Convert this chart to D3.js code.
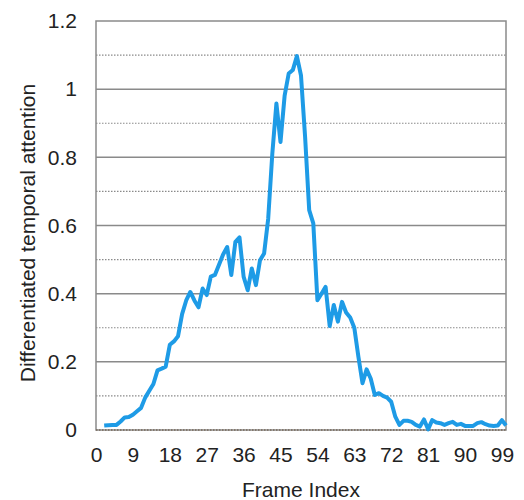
<!DOCTYPE html>
<html>
<head>
<meta charset="utf-8">
<script src="https://cdn.jsdelivr.net/npm/d3@7"></script>
<style>
  body { margin: 0; background: #fff; }
  text { font-family: "Liberation Sans", Arial, sans-serif; fill: #222; }
</style>
</head>
<body>
<svg id="chart" width="524" height="500"></svg>
<script>
// frames 2..100
const frames = d3.range(2, 101);
const attention = [
  0.013, 0.014, 0.015, 0.015, 0.025, 0.037, 0.038, 0.045, 0.055, 0.065,
  0.095, 0.115, 0.135, 0.175, 0.180, 0.186, 0.250, 0.260, 0.275, 0.340,
  0.380, 0.405, 0.380, 0.360, 0.415, 0.396, 0.450, 0.455, 0.485, 0.515,
  0.537, 0.455, 0.552, 0.565, 0.450, 0.410, 0.474, 0.425, 0.498, 0.518,
  0.620, 0.810, 0.958, 0.845, 0.980, 1.046, 1.056, 1.097, 1.040, 0.860,
  0.645, 0.606, 0.381, 0.400, 0.420, 0.305, 0.367, 0.318, 0.376, 0.345,
  0.330, 0.300, 0.215, 0.137, 0.178, 0.151, 0.103, 0.108, 0.100, 0.095,
  0.083, 0.039, 0.015, 0.027, 0.027, 0.024, 0.015, 0.010, 0.031, 0.002,
  0.029, 0.022, 0.020, 0.015, 0.020, 0.024, 0.015, 0.018, 0.012, 0.012,
  0.012, 0.020, 0.023, 0.017, 0.013, 0.012, 0.013, 0.029, 0.013
];
const xTicks = [0, 9, 18, 27, 36, 45, 54, 63, 72, 81, 90, 99];
const yMajor = [0, 0.2, 0.4, 0.6, 0.8, 1, 1.2];
const yMinor = [0.1, 0.3, 0.5, 0.7, 0.9, 1.1];

const svg = d3.select('#chart');
const m = { left: 96, right: 506, top: 21, bottom: 430 };

const x = d3.scaleLinear().domain([0, 100]).range([m.left, m.right]);
const y = d3.scaleLinear().domain([0, 1.2]).range([m.bottom, m.top]);

// dotted minor grid
svg.append('g').selectAll('line').data(yMinor).join('line')
  .attr('x1', m.left).attr('x2', m.right)
  .attr('y1', d => y(d)).attr('y2', d => y(d))
  .attr('stroke', '#8a8a8a').attr('stroke-width', 1.2)
  .attr('stroke-dasharray', '1.5,1.5');

// solid major grid
svg.append('g').selectAll('line').data(yMajor.slice(1, -1)).join('line')
  .attr('x1', m.left).attr('x2', m.right)
  .attr('y1', d => y(d)).attr('y2', d => y(d))
  .attr('stroke', '#8a8a8a').attr('stroke-width', 1.5);

// plot border
svg.append('rect')
  .attr('x', m.left).attr('y', m.top)
  .attr('width', m.right - m.left).attr('height', m.bottom - m.top)
  .attr('fill', 'none').attr('stroke', '#8a8a8a').attr('stroke-width', 1.5);

// zero line, dotted
svg.append('line')
  .attr('x1', m.left).attr('x2', m.right)
  .attr('y1', y(0)).attr('y2', y(0))
  .attr('stroke', '#7a6a5a').attr('stroke-width', 1.5)
  .attr('stroke-dasharray', '1.5,1.5');

// axes (labels only)
const xAxis = svg.append('g')
  .attr('transform', `translate(0,${m.bottom})`)
  .call(d3.axisBottom(x).tickValues(xTicks).tickSize(0).tickPadding(17));
const yAxis = svg.append('g')
  .attr('transform', `translate(${m.left},0)`)
  .call(d3.axisLeft(y).tickValues(yMajor).tickSize(0).tickPadding(19)
    .tickFormat(d3.format('~g')));
[xAxis, yAxis].forEach(g => {
  g.select('.domain').remove();
  g.selectAll('text').attr('font-size', 21).attr('fill', '#222')
    .attr('font-family', '"Liberation Sans", Arial, sans-serif');
});

// data line
const line = d3.line()
  .x((d, i) => x(frames[i]))
  .y(d => y(d));
svg.append('path')
  .datum(attention)
  .attr('d', line)
  .attr('fill', 'none')
  .attr('stroke', '#1e9be6')
  .attr('stroke-width', 4)
  .attr('stroke-linejoin', 'round');

// titles
svg.append('text')
  .attr('x', 301).attr('y', 497)
  .attr('text-anchor', 'middle')
  .attr('font-size', 21)
  .text('Frame Index');
svg.append('text')
  .attr('transform', 'translate(35,233) rotate(-90)')
  .attr('text-anchor', 'middle')
  .attr('font-size', 21)
  .text('Differentiated temporal attention');
</script>
</body>
</html>
